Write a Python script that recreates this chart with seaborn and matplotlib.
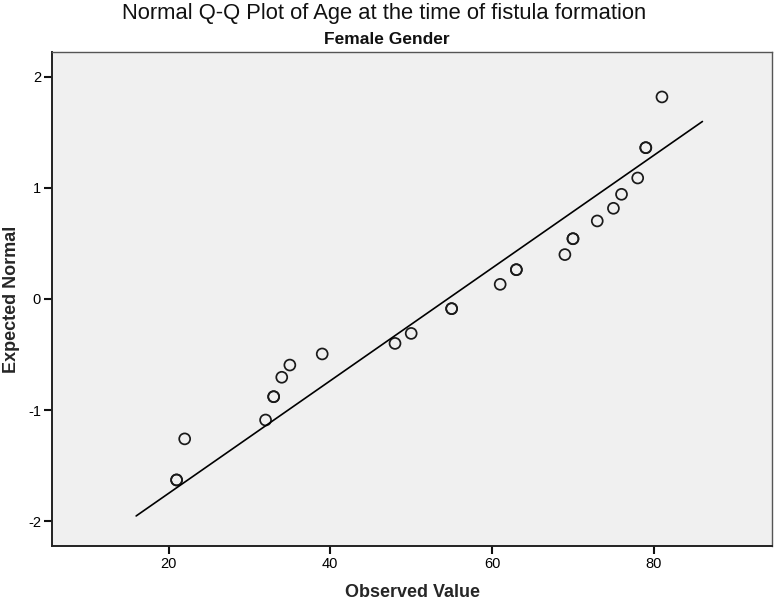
# ---------------------------------------------------
# Normal Q-Q plot (SPSS style) - Age at fistula formation, females
# ---------------------------------------------------

import pandas as pd
import seaborn as sns
import matplotlib.pyplot as plt

# Data (repeated rows = tied values, drawn as bold circles)
observed_value = [21, 21, 22, 32, 33, 33, 34, 35, 39, 48, 50, 55, 55,
                  61, 63, 63, 69, 70, 70, 73, 75, 76, 78, 79, 79, 81]
expected_normal = [-1.63, -1.63, -1.26, -1.09, -0.88, -0.88, -0.705, -0.595,
                   -0.495, -0.40, -0.31, -0.087, -0.087, 0.132, 0.264, 0.264,
                   0.40, 0.543, 0.543, 0.703, 0.817, 0.943, 1.09, 1.363,
                   1.363, 1.82]

# Reference line: y = (x - mean) / sd over the drawn range
ref_mean = 54.5
ref_sd = 19.7
ref_x = [16.0, 86.0]

x_ticks = [20, 40, 60, 80]
y_ticks = [-2, -1, 0, 1, 2]

df = pd.DataFrame({"observed": observed_value, "expected": expected_normal})
ref = pd.DataFrame({"x": ref_x})
ref["y"] = (ref["x"] - ref_mean) / ref_sd

sns.set_theme(style="ticks")
plt.rcParams["font.family"] = ["Liberation Sans", "DejaVu Sans"]
plt.rcParams["axes.unicode_minus"] = False
plt.rcParams["xtick.bottom"] = True
plt.rcParams["ytick.left"] = True

fig = plt.figure(figsize=(7.74, 6.01), dpi=100)
ax = fig.add_axes([0.0672, 0.0915, 0.9302, 0.822])
ax.set_facecolor("#f0f0f0")

sns.lineplot(data=ref, x="x", y="y", color="black", linewidth=1.2, ax=ax)
sns.scatterplot(data=df, x="observed", y="expected", ax=ax, s=62,
                facecolor="none", edgecolor="#1a1a1a", linewidth=1.25)

ax.set_xlim(5.6, 94.6)
ax.set_ylim(-2.225, 2.225)
ax.set_xticks(x_ticks)
ax.set_yticks(y_ticks)
ax.tick_params(axis="both", direction="out", length=6, width=1.5,
               color="#111111", labelsize=10.5, labelcolor="black", pad=2)

for side in ["left", "bottom"]:
    ax.spines[side].set_color("#222222")
    ax.spines[side].set_linewidth(1.4)
for side in ["top", "right"]:
    ax.spines[side].set_visible(True)
    ax.spines[side].set_color("#555555")
    ax.spines[side].set_linewidth(1.0)

ax.set_xlabel("Observed Value", fontsize=13, fontweight="bold", labelpad=9)
ax.set_ylabel("Expected Normal", fontsize=13, fontweight="bold", labelpad=6)
fig.text(0.5, 1 - 40 / 601, "Female Gender", fontsize=12.5,
         fontweight="bold", ha="center", va="center", color="#111111")
fig.text(0.496, 1 - 13 / 601,
         "Normal Q-Q Plot of Age at the time of fistula formation",
         fontsize=15.8, ha="center", va="center", color="#111111")

plt.savefig("out.png", dpi=100)
plt.close()
